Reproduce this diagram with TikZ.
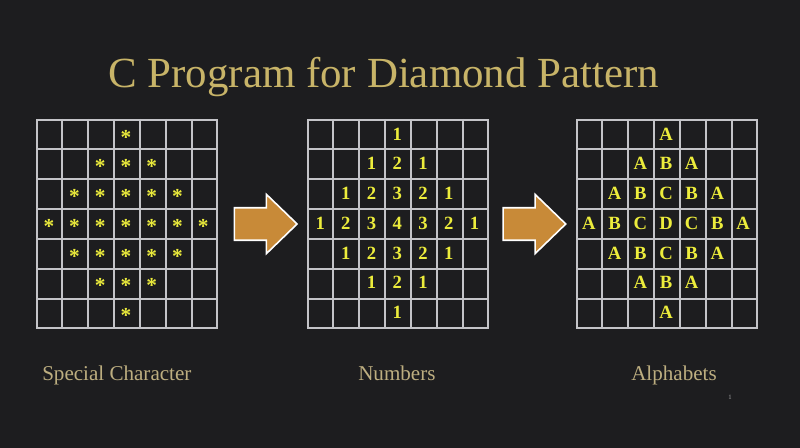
\documentclass[tikz,border=0pt]{standalone}
\usepackage{fontspec}
\setmainfont{Liberation Serif}
\usetikzlibrary{shapes.arrows, positioning, calc}
\definecolor{slide}{HTML}{1D1D1F}
\definecolor{titlegold}{HTML}{C8B468}
\definecolor{captiontan}{HTML}{BDAE80}
\definecolor{cellyellow}{HTML}{ECEC3C}
\definecolor{arrowfill}{HTML}{C88A38}
\definecolor{gridgray}{HTML}{C4C4C8}
\tikzset{
  frame/.style = {draw=gridgray, line width=1.5pt, minimum width=135pt,
    minimum height=156pt, inner sep=0pt},
  gridline/.style = {draw=gridgray, line width=1.5pt},
  cell/.style = {text=cellyellow, font=\bfseries\fontsize{14}{14}\selectfont,
    text height=9.5pt, text depth=0pt, inner sep=0pt},
  starcell/.style = {cell, font=\bfseries\fontsize{16}{16}\selectfont, yshift=-3pt},
  caption/.style = {text=captiontan, font=\fontsize{15.8}{18}\selectfont,
    anchor=base west, inner sep=0pt},
  next/.style = {single arrow, draw=white, line width=1.2pt, fill=arrowfill,
    minimum height=47pt, inner xsep=0pt, inner ysep=11.6pt,
    single arrow head extend=10pt, single arrow tip angle=88,
    single arrow head indent=0pt}
}

\begin{document}
\begin{tikzpicture}[x=0.75pt, y=-0.75pt]
  \fill[slide] (0,0) rectangle (800,448);
  \useasboundingbox (0,0) rectangle (800,448);

  \node[text=titlegold, font=\fontsize{32.2}{36}\selectfont, anchor=base west,
    inner sep=0pt] (title) at (108,88) {C Program for Diamond Pattern};

  % the three 7x7 tables
  \node[frame] (special) at (127,224) {};
  \node[frame, right = 67pt of special] (numbers) {};
  \node[frame, right = 65pt of numbers] (alphabets) {};

  \foreach \f in {special, numbers, alphabets}
    \foreach \k in {1,...,6} {
      \draw[gridline] ($(\f.north west)!\k/7!(\f.north east)$)
        -- ($(\f.south west)!\k/7!(\f.south east)$);
      \draw[gridline] ($(\f.north west)!\k/7!(\f.south west)$)
        -- ($(\f.north east)!\k/7!(\f.south east)$);
    }

  \foreach \r in {0,...,6}
    \foreach \c in {0,...,6} {
      \pgfmathtruncatemacro\v{4-abs(\r-3)-abs(\c-3)}
      \ifnum\v>0
        \node[starcell] (s-\r-\c)
          at ($(special.north west)+(\c*180/7+90/7, \r*208/7+104/7)$) {*};
        \node[cell] (n-\r-\c)
          at ($(numbers.north west)+(\c*180/7+90/7, \r*208/7+104/7)$) {\v};
        \node[cell] (a-\r-\c)
          at ($(alphabets.north west)+(\c*180/7+90/7, \r*208/7+104/7)$)
          {\ifcase\v\or A\or B\or C\or D\fi};
      \fi
    }

  \node[next, xshift=-4pt] (toNumbers) at ($(special.east)!0.5!(numbers.west)$) {};
  \node[next, xshift=-5pt] (toAlphabets) at ($(numbers.east)!0.5!(alphabets.west)$) {};

  \node[caption] (specialText) at (42,381) {Special Character};
  \node[caption] (numbersText) at (358,381) {Numbers};
  \node[caption] (alphabetsText) at (631,381) {Alphabets};

  \node[text=gray!70, font=\fontsize{5}{5}\selectfont, inner sep=0pt]
    (pageNo) at (730,397) {1};
\end{tikzpicture}
\end{document}
